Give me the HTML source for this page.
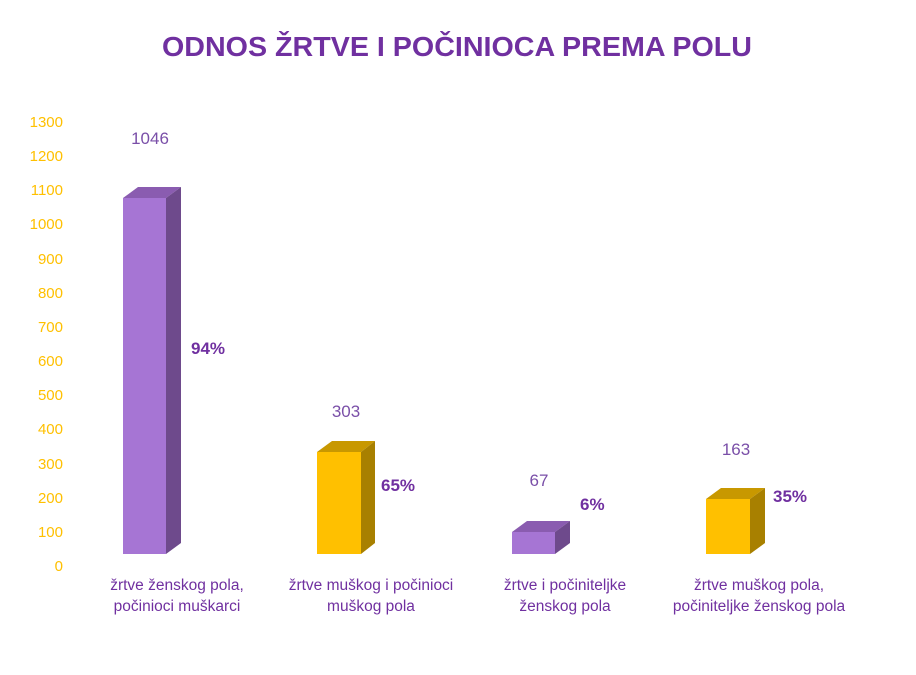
<!DOCTYPE html>
<html><head><meta charset="utf-8"><style>
body{margin:0;background:#fff;}
svg{display:block;font-family:"Liberation Sans",sans-serif;}
</style></head><body>
<svg width="916" height="675" viewBox="0 0 916 675" xmlns="http://www.w3.org/2000/svg">
<rect width="916" height="675" fill="#fff"/>
<text x="457" y="56" text-anchor="middle" font-size="28" font-weight="bold" fill="#7030a0" textLength="590" lengthAdjust="spacingAndGlyphs">ODNOS ŽRTVE I POČINIOCA PREMA POLU</text>
<g font-size="15" fill="#ffc000" text-anchor="end">
<text x="63" y="127">1300</text><text x="63" y="161">1200</text><text x="63" y="195">1100</text>
<text x="63" y="229">1000</text><text x="63" y="264">900</text><text x="63" y="298">800</text>
<text x="63" y="332">700</text><text x="63" y="366">600</text><text x="63" y="400">500</text>
<text x="63" y="434">400</text><text x="63" y="469">300</text><text x="63" y="503">200</text>
<text x="63" y="537">100</text><text x="63" y="571">0</text>
</g>
<!-- bar1 -->
<polygon points="123,198 138,187 181,187 166,198" fill="#8a5cb0"/>
<polygon points="166,198 181,187 181,543 166,554" fill="#6e4a8c"/>
<rect x="123" y="198" width="43" height="356" fill="#a675d4"/>
<!-- bar2 -->
<polygon points="317,452 332,441 375,441 361,452" fill="#c89800"/>
<polygon points="361,452 375,441 375,543 361,554" fill="#a88000"/>
<rect x="317" y="452" width="44" height="102" fill="#ffc000"/>
<!-- bar3 -->
<polygon points="512,532 527,521 570,521 555,532" fill="#8a5cb0"/>
<polygon points="555,532 570,521 570,543 555,554" fill="#6e4a8c"/>
<rect x="512" y="532" width="43" height="22" fill="#a675d4"/>
<!-- bar4 -->
<polygon points="706,499 721,488 765,488 750,499" fill="#c89800"/>
<polygon points="750,499 765,488 765,543 750,554" fill="#a88000"/>
<rect x="706" y="499" width="44" height="55" fill="#ffc000"/>
<g font-size="17" fill="#7a4fa8" text-anchor="middle">
<text x="150" y="144">1046</text><text x="346" y="417">303</text>
<text x="539" y="486">67</text><text x="736" y="455">163</text>
</g>
<g font-size="17" font-weight="bold" fill="#7030a0">
<text x="191" y="354">94%</text><text x="381" y="491">65%</text>
<text x="580" y="510">6%</text><text x="773" y="502">35%</text>
</g>
<g font-size="15.5" fill="#7030a0" text-anchor="middle">
<text x="177" y="590">žrtve ženskog pola,</text><text x="177" y="611">počinioci muškarci</text>
<text x="371" y="590">žrtve muškog i počinioci</text><text x="371" y="611">muškog pola</text>
<text x="565" y="590">žrtve i počiniteljke</text><text x="565" y="611">ženskog pola</text>
<text x="759" y="590">žrtve muškog pola,</text><text x="759" y="611">počiniteljke ženskog pola</text>
</g>
</svg>
</body></html>
